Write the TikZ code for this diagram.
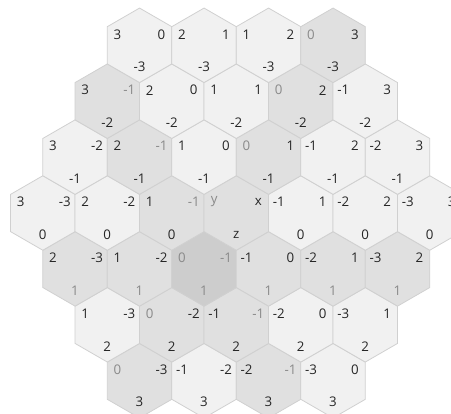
\documentclass[tikz,border=0pt]{standalone}
\usepackage{fontspec}
\setmainfont{Open Sans}
\usetikzlibrary{calc}
\definecolor{txt}{HTML}{262626}
\definecolor{gtxt}{HTML}{8A8A8A}
\definecolor{hexA}{HTML}{F1F1F1}
\definecolor{hexB}{HTML}{E0E0E0}
\definecolor{hexC}{HTML}{CDCDCD}
\definecolor{hexline}{HTML}{D0D0D0}
\begin{document}
\begin{tikzpicture}[x=1pt,y=1pt,
  hexcell/.style={draw=hexline, line width=0.8pt, line join=miter},
  lab/.style={font=\fontsize{13.3}{15}\selectfont, text=txt, inner sep=0pt, anchor=center},
  glab/.style={lab, text=gtxt}]
\useasboundingbox (0,0) rectangle (451,-414);
\clip (0,0) rectangle (451,-414);
\foreach \hx in {-3,...,3}{
  \foreach \hy in {-3,...,3}{
    \pgfmathtruncatemacro{\hz}{-\hx-\hy}
    \pgfmathtruncatemacro{\ok}{abs(\hz)<=3}
    \ifnum\ok=1
      \pgfmathsetmacro{\px}{236.3+32.25*(\hx-\hy)}
      \pgfmathsetmacro{\py}{-213-55.9*\hz}
      \pgfmathtruncatemacro{\nc}{(\hy==0)+(\hx==-1)+(\hz==1)}
      \pgfmathtruncatemacro{\hi}{\hx+3}
      \pgfmathtruncatemacro{\hj}{\hy+3}
      \ifcase\nc \def\hf{hexA}\or\def\hf{hexB}\or\def\hf{hexB}\or\def\hf{hexC}\fi
      \ifnum\hy=0 \def\ys{glab}\else\def\ys{lab}\fi
      \ifnum\hx=-1 \def\xs{glab}\else\def\xs{lab}\fi
      \ifnum\hz=1 \def\zs{glab}\else\def\zs{lab}\fi
      \coordinate (c\hi\hj) at (\px,\py);
      \draw[hexcell, fill=\hf] (c\hi\hj) +(30:37.24) -- +(90:37.24) -- +(150:37.24)
        -- +(210:37.24) -- +(270:37.24) -- +(330:37.24) -- cycle;
      \pgfmathtruncatemacro{\isc}{(\hx==0)&&(\hy==0)}
      \ifnum\isc=1
        \node[\ys] (ly\hi\hj) at ($(c\hi\hj)+(-22,11)$) {y};
        \node[\xs] (lx\hi\hj) at ($(c\hi\hj)+(22,11)$) {x};
        \node[\zs] (lz\hi\hj) at ($(c\hi\hj)+(0,-21.5)$) {z};
      \else
        \node[\ys] (ly\hi\hj) at ($(c\hi\hj)+(-22,11)$) {\hy};
        \node[\xs] (lx\hi\hj) at ($(c\hi\hj)+(22,11)$) {\hx};
        \node[\zs] (lz\hi\hj) at ($(c\hi\hj)+(0,-21.5)$) {\hz};
      \fi
    \fi
  }
}
\end{tikzpicture}
\end{document}
